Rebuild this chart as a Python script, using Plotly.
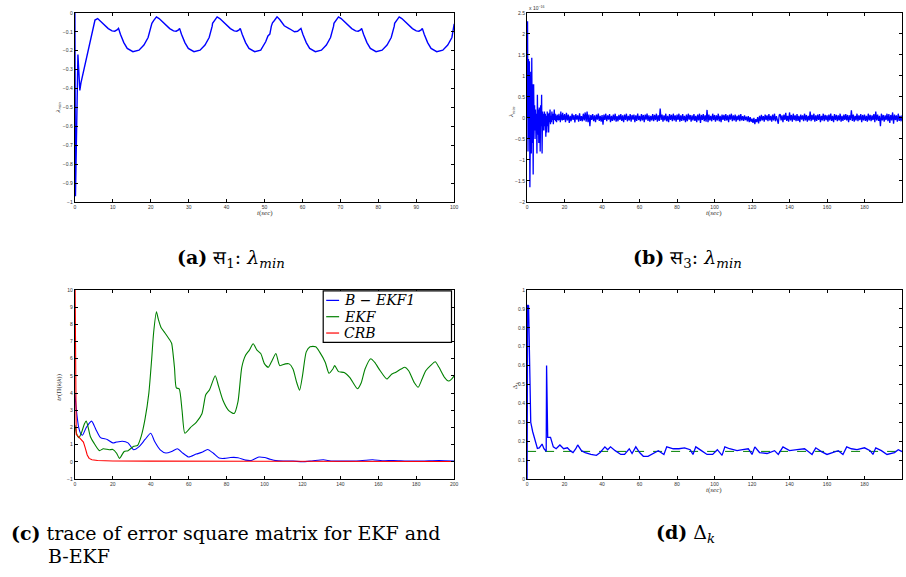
import numpy as np
import plotly.graph_objects as go

# ---------------- (a) lambda_min, system 1 ----------------
t_a = [0, 0.15, 0.8, 1.3, 1.6, 2.4, 3.2, 4.1, 4.8, 5.3,
       6.0, 6.8, 7.8, 8.8, 9.8, 10.5, 11.1, 11.5, 12.0, 12.9, 13.8, 15.3, 16.9, 18.2, 19.3, 19.9, 20.1, 20.3, 20.8, 21.5,
       22.2, 23.0, 24.0, 25.0, 26.0, 26.7, 27.3, 27.6, 28.1, 29.0, 29.9, 31.4, 33.0, 34.3, 35.4, 36.0, 36.2, 36.3, 36.8, 37.5,
       38.2, 39.0, 40.0, 41.0, 42.0, 42.7, 43.3, 43.6, 44.1, 45.0, 45.9, 47.4, 49.0, 50.3, 50.9, 51.4, 51.8, 52.1, 52.6, 53.3,
       54.0, 55.2, 56.6, 57.9, 58.7, 59.3, 59.6, 60.1, 61.0, 61.9, 63.4, 65.0, 66.3, 67.4, 68.0, 68.2, 68.3, 68.8, 69.5,
       70.2, 71.0, 72.0, 73.0, 74.0, 74.7, 75.3, 75.6, 76.1, 77.0, 77.9, 79.4, 81.0, 82.3, 83.4, 84.0, 84.2, 84.3, 84.8, 85.5,
       86.2, 87.0, 88.0, 89.0, 90.0, 90.7, 91.3, 91.6, 92.1, 93.0, 93.9, 95.4, 97.0, 98.3, 99.4, 100.0]
lam1 = [0, -0.97, -0.22, -0.41, -0.37, -0.296, -0.226, -0.148, -0.07, -0.038,
        -0.03, -0.045, -0.065, -0.083, -0.095, -0.097, -0.09, -0.082, -0.113, -0.157, -0.188, -0.205, -0.197, -0.17, -0.13, -0.09, -0.07, -0.055, -0.04, -0.021,
        -0.03, -0.045, -0.065, -0.083, -0.095, -0.097, -0.09, -0.082, -0.113, -0.157, -0.188, -0.205, -0.197, -0.17, -0.13, -0.09, -0.07, -0.055, -0.04, -0.021,
        -0.03, -0.045, -0.065, -0.083, -0.095, -0.097, -0.09, -0.082, -0.113, -0.157, -0.188, -0.205, -0.197, -0.153, -0.122, -0.112, -0.07, -0.052, -0.04, -0.021,
        -0.035, -0.068, -0.084, -0.1, -0.097, -0.09, -0.082, -0.113, -0.157, -0.188, -0.205, -0.197, -0.17, -0.13, -0.09, -0.07, -0.055, -0.04, -0.021,
        -0.03, -0.045, -0.065, -0.083, -0.095, -0.097, -0.09, -0.082, -0.113, -0.157, -0.188, -0.205, -0.197, -0.17, -0.13, -0.09, -0.07, -0.055, -0.04, -0.021,
        -0.03, -0.045, -0.065, -0.083, -0.095, -0.097, -0.09, -0.082, -0.113, -0.157, -0.188, -0.205, -0.197, -0.17, -0.13, -0.058]

# ---------------- (b) lambda_min, system 3 (units of 1e-16) ----------------
dt_early, dt_late = 0.25, 0.5
lam3_early = [0, 2.3, -0.8, 1.4, -0.5, 1.35, -1.65, 0.5, 1.1, -0.85,
              1.43, -0.6, 0.8, -1.35, 0.8, -0.3, 0.3, -0.5, 0.2, -0.3,
              0.1, -0.85, 0.55, -0.4, 0.2, -0.6, 0.25, 0.0, -0.8, 0.3,
              -0.2, 0.55, -0.85, 0.15, -0.3, 0.1, -0.3, 0.15, -0.2, 0.1,
              -0.45, 0.05, -0.35, 0.15, -0.2, 0.1, -0.35, 0.12, -0.1, 0.2,
              -0.15, 0.05, -0.1, 0.15, -0.05, 0.1, -0.15, 0.05, 0.2, -0.05,
              0.1, -0.08, 0.05, -0.1, 0.08, -0.05, 0.06, -0.06, 0.1, -0.05,
              0.05, -0.1, 0.15, -0.04, 0.08, -0.06, 0.12, -0.05, 0.06, -0.04]
lam3_late = [
    0.09, -0.1, 0.12, -0.06, 0.08, -0.12, 0.05, -0.08, 0.1, -0.05, 0.07, -0.11, 0.09, -0.04, 0.06, -0.09, 0.11, -0.07, 0.04, -0.08,
    0.1, -0.06, 0.13, -0.09, 0.15, -0.1, 0.08, -0.2, 0.07, -0.05, 0.09, -0.08, 0.06, -0.1, 0.08, -0.04, 0.1, -0.07, 0.05, -0.09,
    0.07, -0.16, 0.08, -0.05, 0.1, -0.08, 0.06, -0.04, 0.09, -0.1, 0.05, -0.07, 0.08, -0.06, 0.1, -0.09, 0.04, -0.08, 0.07, -0.05,
    0.09, -0.07, 0.06, -0.1, 0.08, -0.05, 0.1, -0.08, 0.05, -0.06, 0.09, -0.09, 0.07, -0.04, 0.08, -0.1, 0.06, -0.07, 0.1, -0.05,
    0.05, -0.08, 0.09, -0.06, 0.07, -0.1, 0.08, -0.04, 0.1, -0.07, 0.06, -0.09, 0.05, -0.06, 0.09, -0.08, 0.07, -0.05, 0.1, -0.09,
    0.06, -0.07, 0.22, -0.05, 0.08, -0.09, 0.06, -0.06, 0.1, -0.08, 0.05, -0.1, 0.09, -0.05, 0.07, -0.08, 0.1, -0.06, 0.06, -0.09,
    0.08, -0.05, 0.1, -0.09, 0.06, -0.07, 0.09, -0.06, 0.05, -0.1, 0.08, -0.08, 0.1, -0.04, 0.07, -0.09, 0.06, -0.06, 0.09, -0.07,
    0.05, -0.1, 0.08, -0.06, 0.1, -0.12, 0.07, -0.05, 0.09, -0.08, 0.06, -0.09, 0.19, -0.1, 0.08, -0.06, 0.05, -0.08, 0.1, -0.05,
    0.07, -0.09, 0.06, -0.06, 0.1, -0.08, 0.05, -0.1, 0.08, -0.05, 0.07, -0.07, 0.09, -0.06, 0.06, -0.1, 0.08, -0.04, 0.1, -0.08,
    0.06, -0.06, 0.08, -0.09, 0.05, -0.05, 0.07, -0.08, 0.09, -0.06, 0.04, -0.07, 0.06, -0.05, 0.03, -0.08, 0.04, -0.1, 0.02, -0.09,
    -0.02, -0.12, 0.0, -0.15, -0.03, -0.1, 0.02, -0.13, 0.05, -0.08, 0.07, -0.06, 0.04, -0.09, 0.08, -0.05, 0.06, -0.08, 0.09, -0.06,
    0.05, -0.09, 0.08, -0.06, 0.1, -0.08, 0.04, -0.05, -0.14, 0.07, 0.09, -0.06, 0.06, -0.1, 0.08, -0.05, 0.12, -0.07, 0.05, -0.09,
    0.13, -0.06, 0.07, -0.09, 0.1, -0.05, 0.06, -0.08, 0.09, -0.07, 0.05, -0.1, 0.08, -0.04, 0.06, -0.08, 0.1, -0.06, 0.07, -0.09,
    0.05, -0.06, 0.15, -0.08, 0.07, -0.05, 0.1, -0.09, 0.06, -0.07, 0.08, -0.05, 0.09, -0.1, 0.05, -0.06, 0.1, -0.08, 0.07, -0.05,
    0.06, -0.09, 0.08, -0.06, 0.1, -0.07, 0.05, -0.1, 0.09, -0.05, 0.07, -0.08, 0.06, -0.06, 0.1, -0.09, 0.05, -0.07, 0.08, -0.05,
    0.09, -0.06, 0.07, -0.1, 0.06, -0.05, 0.18, -0.07, 0.08, -0.09, 0.05, -0.06, 0.1, -0.08, 0.06, -0.05, 0.09, -0.1, 0.07, -0.06,
    0.08, -0.07, 0.05, -0.09, 0.1, -0.06, 0.07, -0.08, 0.06, -0.05, 0.09, -0.1, 0.15, -0.06, 0.08, -0.07, 0.05, -0.2, 0.1, -0.06,
    0.07, -0.09, 0.06, -0.05, 0.1, -0.08, 0.09, -0.12, 0.07, -0.06, 0.13, -0.14, 0.08, -0.05, 0.06, -0.09, 0.1, -0.07, 0.05, -0.08,
    0.06]
t_b = np.concatenate([np.arange(len(lam3_early)) * dt_early,
                      20 + np.arange(len(lam3_late)) * dt_late])
lam3 = lam3_early + lam3_late

# ---------------- (c) trace of error square matrix ----------------
t_bekf = [0, 0.8, 2, 3, 4, 6, 8.8, 11, 13.5, 17, 20, 22, 25, 28, 31, 34, 37, 40, 42, 45, 48, 51, 54, 57,
          60, 64, 67, 70, 73, 76, 79, 82, 86, 90, 93, 97, 100, 103, 106, 110, 115, 120, 125, 131, 135,
          140, 148, 157, 162, 168, 175, 183, 192, 200]
bekf = [4.0, 3.0, 2.0, 1.65, 1.55, 2.0, 2.37, 1.9, 1.41, 1.3, 1.1, 1.15, 1.2, 1.1, 0.7, 0.9, 1.3, 1.66, 1.2, 0.7, 0.51, 0.6, 0.76, 0.5,
        0.28, 0.45, 0.55, 0.72, 0.5, 0.22, 0.2, 0.25, 0.24, 0.1, 0.08, 0.28, 0.25, 0.15, 0.07, 0.05, 0.05, 0.0, 0.05, 0.12, 0.05,
        0.04, 0.05, 0.12, 0.06, 0.08, 0.05, 0.05, 0.08, 0.05]
t_ekf = [0, 1, 2.1, 3.5, 5, 6, 7, 8.2, 10, 12.9, 15, 18, 20, 22, 23.5, 26, 28, 31, 33, 35, 37, 39, 40.5, 41.5, 43,
         44, 45.5, 47.5, 50, 51, 52.5, 53.5, 55, 56.5, 58, 61, 64, 67, 69, 71, 74, 75.5, 78, 81, 84, 86, 88,
         90, 92, 94, 96, 98, 100, 102, 104, 106, 108, 111, 113, 115, 117, 118.5, 120, 122, 124, 127, 129, 132,
         134, 136, 137, 139, 142, 145, 149, 151, 153, 156, 158, 161, 164.5, 167, 169, 172, 174, 176, 179, 181,
         183, 185, 187.5, 190, 192, 195, 197, 198.5, 200]
ekf = [2.13, 1.6, 1.4, 1.7, 2.2, 2.38, 2.0, 1.46, 1.1, 0.65, 0.76, 0.7, 0.72, 0.5, 0.2, 0.6, 0.65, 0.9, 0.95, 1.5, 2.5, 4.0, 6.0, 7.5, 8.73,
       8.3, 7.8, 7.5, 7.1, 6.9, 5.5, 4.3, 4.25, 3.0, 1.66, 2.0, 2.3, 2.8, 3.9, 4.2, 5.01, 4.5, 3.6, 3.0, 2.81, 3.5, 5.5,
       6.2, 6.5, 6.87, 6.5, 6.3, 5.7, 5.5, 5.9, 6.3, 5.6, 5.7, 5.7, 5.4, 4.6, 4.17, 5.0, 6.4, 6.7, 6.7, 6.4, 5.8,
       5.15, 5.4, 5.6, 5.25, 5.2, 4.9, 4.25, 4.6, 5.4, 6.0, 5.8, 5.3, 4.82, 5.1, 5.2, 5.4, 5.5, 5.3, 4.6, 4.34,
       4.8, 5.3, 5.6, 5.82, 5.5, 4.9, 4.7, 4.8, 5.0]
t_crb = [0, 0.4, 0.7, 2, 3, 4.5, 5.5, 6.5, 7.5, 9, 12, 20, 40, 80, 120, 200]
crb = [12, 3.0, 1.6, 1.45, 1.35, 1.15, 0.8, 0.4, 0.2, 0.12, 0.08, 0.05, 0.04, 0.03, 0.03, 0.02]

# ---------------- (d) Delta_k ----------------
t_d = [0, 0.3, 0.8, 1.95, 3, 4.5, 5.5, 6.5, 8, 9, 10.2, 10.4, 11, 12.5, 14, 15.5, 17.5, 19.5, 21.5, 23, 24.5,
       26, 27, 29, 31, 34, 37, 39, 41.5, 43, 44.5, 47, 50, 52, 54.5, 56, 58, 60, 62, 64.5, 68, 70, 73, 74.5,
       78, 81, 84, 87, 88.5, 90, 93, 96, 99, 101.5, 104, 105.5, 108, 112, 115, 118, 120, 121.5, 124, 128,
       132, 134, 136.5, 140, 144, 148, 150, 152, 154, 157, 160, 163, 166, 168.5, 170.5, 173, 176, 180, 183,
       184.5, 186, 189, 192, 196, 198, 200]
delta = [0, 0.92, 0.916, 0.30, 0.25, 0.2, 0.162, 0.165, 0.185, 0.16, 0.146, 0.6, 0.22, 0.22, 0.17, 0.16, 0.18, 0.16, 0.165, 0.15, 0.14,
         0.16, 0.18, 0.15, 0.14, 0.13, 0.125, 0.14, 0.17, 0.155, 0.17, 0.15, 0.13, 0.13, 0.16, 0.135, 0.17, 0.14, 0.12, 0.12, 0.14, 0.15, 0.13, 0.17,
         0.16, 0.16, 0.165, 0.155, 0.13, 0.17, 0.15, 0.13, 0.13, 0.155, 0.125, 0.17, 0.16, 0.15, 0.155, 0.16, 0.13, 0.17, 0.14, 0.135,
         0.15, 0.13, 0.17, 0.15, 0.155, 0.16, 0.145, 0.13, 0.165, 0.145, 0.13, 0.14, 0.15, 0.13, 0.17, 0.16, 0.155, 0.165, 0.15,
         0.13, 0.165, 0.15, 0.13, 0.14, 0.155, 0.145]
delta_ref = 0.146

BLUE, GREEN, RED = "#0000ff", "#008000", "#ff0000"
W, H = 906, 577


def px_x(p):
    return p / W


def px_y(p):
    return 1 - p / H


fig = go.Figure()
fig.add_trace(go.Scatter(x=t_a, y=lam1, mode="lines", line=dict(color=BLUE, width=1.4),
                         xaxis="x", yaxis="y", showlegend=False))
fig.add_trace(go.Scatter(x=t_b, y=lam3, mode="lines", line=dict(color=BLUE, width=1.3),
                         xaxis="x2", yaxis="y2", showlegend=False))
fig.add_trace(go.Scatter(x=t_bekf, y=bekf, mode="lines", name="B − EKF1",
                         line=dict(color=BLUE, width=1.1, shape="spline", smoothing=0.6),
                         xaxis="x3", yaxis="y3", showlegend=False))
fig.add_trace(go.Scatter(x=t_ekf, y=ekf, mode="lines", name="EKF",
                         line=dict(color=GREEN, width=1.1, shape="spline", smoothing=0.6),
                         xaxis="x3", yaxis="y3", showlegend=False))
fig.add_trace(go.Scatter(x=t_crb, y=crb, mode="lines", name="CRB",
                         line=dict(color=RED, width=1.1),
                         xaxis="x3", yaxis="y3", showlegend=False))
fig.add_trace(go.Scatter(x=[0, 200], y=[delta_ref, delta_ref], mode="lines",
                         line=dict(color=GREEN, width=1.0, dash="dash"),
                         xaxis="x4", yaxis="y4", showlegend=False))
fig.add_trace(go.Scatter(x=t_d, y=delta, mode="lines", line=dict(color=BLUE, width=1.3),
                         xaxis="x4", yaxis="y4", showlegend=False))


def axis(domain, rng, tickvals, anchor):
    return dict(domain=domain, range=rng, anchor=anchor, tickvals=tickvals,
                showline=True, linecolor="black", linewidth=1.3, mirror="ticks",
                ticks="inside", ticklen=3, tickwidth=1, tickcolor="black",
                tickfont=dict(family="Liberation Sans", size=5, color="#333"),
                showgrid=False, zeroline=False)


xl = [px_x(74.3), px_x(455.7)]
xr = [px_x(529), 1.0]
yt = [px_y(201), px_y(10)]
yb = [px_y(481), px_y(290)]

fig.update_layout(
    xaxis=axis(xl, [0, 100], list(range(0, 101, 10)), "y"),
    yaxis=axis(yt, [-1, 0], [round(-1 + 0.1 * i, 1) for i in range(11)], "x"),
    xaxis2=axis(xr, [0, 200], list(range(0, 201, 20)), "y2"),
    yaxis2=axis(yt, [-2, 2.5], [-2, -1.5, -1, -0.5, 0, 0.5, 1, 1.5, 2, 2.5], "x2"),
    xaxis3=axis(xl, [0, 200], list(range(0, 201, 20)), "y3"),
    yaxis3=axis(yb, [-1, 10], list(range(-1, 11)), "x3"),
    xaxis4=axis(xr, [0, 200], list(range(0, 201, 20)), "y4"),
    yaxis4=axis(yb, [0, 1], [round(0.1 * i, 1) for i in range(11)], "x4"),
)

ann = []
small = dict(family="Liberation Serif", size=7, color="#333")


def label(x, y, text, angle=0, font=small, xanchor="center"):
    ann.append(dict(x=px_x(x), y=px_y(y), xref="paper", yref="paper", text=text,
                    showarrow=False, textangle=angle, font=font,
                    xanchor=xanchor, yanchor="middle"))


# axis labels
label(265, 212, "<i>t</i>(<i>sec</i>)")
label(57, 106, "<i>λ<sub>min</sub></i>", -90)
label(717, 212, "<i>t</i>(<i>sec</i>)")
label(513, 110, "<i>λ<sub>min</sub></i>", -90)
label(529, 5, "x 10<sup>−16</sup>", font=dict(family="Liberation Sans", size=5, color="#333"), xanchor="left")
label(58, 388, "<i>tr</i>(Π(<i>k</i>|<i>k</i>))", -90)
label(717, 492, "<i>t</i>(<i>sec</i>)")
label(517, 386, "Δ<sub><i>k</i></sub>", -90)

# legend for panel (c)
leg_font = dict(family="DejaVu Serif", size=14, color="black", style="italic")
fig.add_shape(type="rect", xref="paper", yref="paper",
              x0=px_x(324), x1=px_x(453), y0=px_y(343), y1=px_y(291),
              line=dict(color="black", width=1.2), fillcolor="white", layer="above")
for (yy, col, txt) in [(300.5, BLUE, "B − EKF1"), (317, GREEN, "EKF"), (333.5, RED, "CRB")]:
    fig.add_shape(type="line", xref="paper", yref="paper",
                  x0=px_x(327), x1=px_x(340), y0=px_y(yy), y1=px_y(yy),
                  line=dict(color=col, width=1.2), layer="above")
    label(343, yy, txt, font=leg_font, xanchor="left")

# captions
cap = dict(family="DejaVu Serif", size=19, color="black")
label(231, 258, "<b>(a)</b> स<sub>1</sub>: <i>λ<sub>min</sub></i>", font=cap)
label(690, 258, "<b>(b)</b> स<sub>3</sub>: <i>λ<sub>min</sub></i>", font=cap)
label(8, 536, "<b>(c)</b> trace of error square matrix for EKF and", font=cap, xanchor="left")
label(45, 559, "B-EKF", font=cap, xanchor="left")
label(688, 536, "<b>(d)</b> Δ<sub><i>k</i></sub>", font=cap)

fig.update_layout(annotations=ann, width=W, height=H,
                  margin=dict(l=0, r=0, t=0, b=0),
                  paper_bgcolor="white", plot_bgcolor="white")

fig.write_html("out.html")
